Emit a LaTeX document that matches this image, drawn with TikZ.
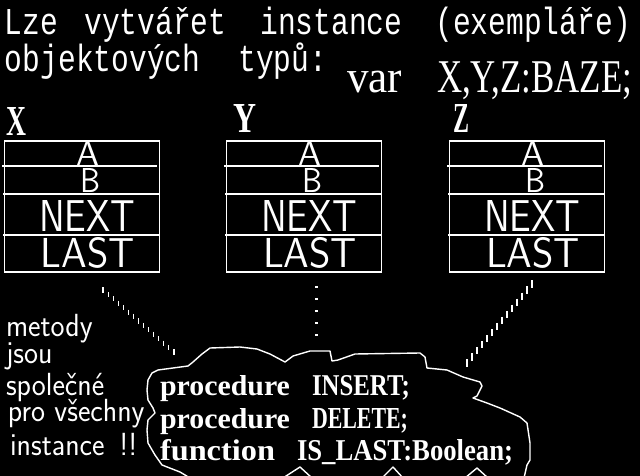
\documentclass[tikz,border=0pt]{standalone}
\usepackage{fontspec}
\usepackage{graphicx}
\setmainfont{Liberation Serif}
\newfontfamily\tmono{Liberation Mono}
\usetikzlibrary{calc}
\tikzset{
  txt/.style={anchor=base west, inner sep=0pt, outer sep=0pt, text=white},
  boxline/.style={draw=white, line width=1.6pt},
  tick/.style={draw=white, line width=1.1pt},
  cloudline/.style={draw=white, line width=1.4pt, line join=round},
}
\newcommand{\sidetext}[1]{\fontsize{32}{32}\selectfont\sffamily\scalebox{0.93}[1]{#1}}
\begin{document}
\begin{tikzpicture}[x=1pt,y=-1pt]
\fill[black] (0,0) rectangle (640,476);
\useasboundingbox (0,0) rectangle (640,476);

% title
\node[txt] (t1) at (5,35) {\tmono\fontsize{29.6}{30}\selectfont\scalebox{1}[1.28]{Lze\hspace{26pt}vytvářet\hspace{34pt}instance\hspace{33pt}(exempláře)}};
\node[txt] (t2) at (5,72) {\tmono\fontsize{29.6}{30}\selectfont\scalebox{1}[1.28]{objektových\hspace{38pt}typů:}};
\node[txt] (v1) at (347,93) {\resizebox{55pt}{21.5pt}{var}};
\node[txt] (v2) at (437,93) {\resizebox{195pt}{31pt}{X,Y,Z:BAZE;}};

% instance boxes
\foreach \dx/\nm/\lx/\ly/\lw in {0/X/6/136/20, 222/Y/233/133/23, 445/Z/453/133/16}{
  \node[boxline, minimum width=155pt, minimum height=131pt, anchor=north west, inner sep=0pt] (box\nm) at (3.8+\dx,140.2) {};
  \node[txt] (lab\nm) at (\lx,\ly) {\resizebox{\lw pt}{28pt}{\bfseries \nm}};
  \draw[white, line width=1.4pt] (2+\dx,166) -- (157+\dx,166);
  \draw[white, line width=2.8pt] (3+\dx,194) -- (159+\dx,194);
  \draw[white, line width=1.5pt] (3+\dx,235) -- (159+\dx,235);
  \node[txt] (a\nm) at (76+\dx,165) {\resizebox{23pt}{24pt}{\sffamily A}};
  \node[txt] (b\nm) at (80+\dx,192) {\resizebox{20pt}{24pt}{\sffamily B}};
  \node[txt] (n\nm) at (39+\dx,231) {\resizebox{96pt}{31pt}{\sffamily NEXT}};
  \node[txt] (l\nm) at (41+\dx,267) {\resizebox{94pt}{30pt}{\sffamily LAST}};
}

% side text
\node[txt] (s1) at (6,336) {\sidetext{metody}};
\node[txt] (s2) at (6,363) {\sidetext{jsou}};
\node[txt] (s3) at (6,395) {\sidetext{společné}};
\node[txt] (s4) at (8,421) {\sidetext{pro všechny}};
\node[txt] (s5) at (10,455) {\sidetext{instance\hspace{16pt}!!}};

% cloud
\draw[cloudline] (148,380) -- (152,373) -- (158,370) -- (173,368) -- (188,366) -- (193,362) -- (202,354) -- (210,348)
  -- (240,347) -- (257,349) -- (270,354) -- (285,362) -- (293,356) -- (310,351) -- (330,351) -- (332,361) -- (338,360)
  -- (355,354) -- (420,353) -- (425,357) -- (427,368) -- (447,370) -- (463,377) -- (480,382) -- (482,386) -- (477,396)
  -- (473,398) -- (487,403) -- (500,408) -- (520,417) -- (527,423) -- (530,443) -- (530,460) -- (527,465) -- (524,478)
  -- (488,478) -- (477,468) -- (465,478) -- (403,478) -- (393,467) -- (382,478) -- (312,478) -- (300,467) -- (283,478)
  -- (190,478) -- (180,472) -- (162,465) -- (155,455) -- (148,443) -- (147,430) -- (148,420) -- (155,413) -- (153,408)
  -- (148,400) -- (147,390) -- cycle;
\coordinate (cloud) at (340,410);

\node[txt] (c1) at (160,395) {\bfseries\resizebox{130pt}{20pt}{procedure}\hspace{22pt}\resizebox{98pt}{20pt}{INSERT;}};
\node[txt] (c2) at (160,428) {\bfseries\resizebox{130pt}{20pt}{procedure}\hspace{22pt}\resizebox{96pt}{20pt}{DELETE;}};
\node[txt] (c3) at (160,460) {\bfseries\resizebox{115pt}{21pt}{function}\hspace{22pt}\resizebox{216pt}{21pt}{IS\_LAST:Boolean;}};

% dotted connectors
\coordinate (pl1) at (103,290); \coordinate (pl2) at (174,352);
\coordinate (pr1) at (532,284); \coordinate (pr2) at (467,363);
\foreach \i in {0,...,14}{
  \draw[tick] ($(pl1)!\i/14!(pl2)$) +(0,-2.6) -- +(0,2.6);
}
\foreach \i in {0,...,13}{
  \draw[tick] ($(pr1)!\i/13!(pr2)$) +(0,-3.6) -- +(0,3.6);
}
\foreach \y in {287,299,311,323,335}{
  \fill[white] (314.5,\y-1) rectangle (317.5,\y+1);
}
\end{tikzpicture}
\end{document}
